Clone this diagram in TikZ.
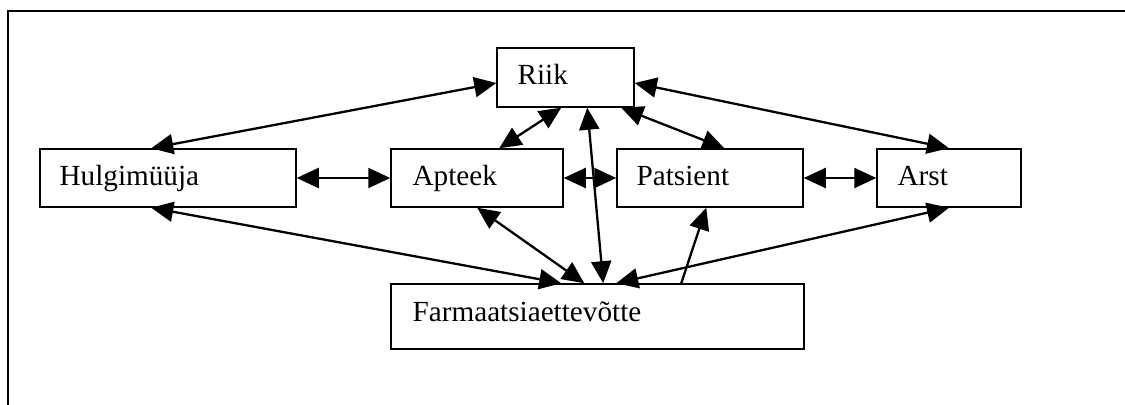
\documentclass[tikz,border=0pt]{standalone}
\usepackage{fontspec}
\setmainfont{Liberation Serif}
\usetikzlibrary{arrows.meta}
\begin{document}
\begin{tikzpicture}[x=0.5pt,y=-0.5pt,
  box/.style={draw,line width=0.75pt,rectangle,inner sep=0pt,anchor=center},
  lbl/.style={anchor=base west,inner sep=0pt,font=\fontsize{14.6}{17}\selectfont},
  arr/.style={line width=1.15pt,{Triangle[length=11pt,width=10pt]}-{Triangle[length=11pt,width=10pt]}},
  arrone/.style={line width=1.15pt,-{Triangle[length=11pt,width=10pt]}}]
\useasboundingbox (0,0) rectangle (1125,405);
% outer frame
\coordinate (ftl) at (8,11);
\coordinate (ftr) at (1125,11);
\coordinate (fbl) at (8,405);
\draw[line width=1pt] (fbl) -- (ftl) -- (ftr);
% boxes
\node[box,minimum width=68.5pt,minimum height=29.5pt] (riik) at (565.5,77.5) {};
\node[box,minimum width=128pt,minimum height=29pt] (hul) at (168,178) {};
\node[box,minimum width=86pt,minimum height=29pt] (apt) at (477,178) {};
\node[box,minimum width=93pt,minimum height=29pt] (pat) at (710,178) {};
\node[box,minimum width=72pt,minimum height=29pt] (arst) at (949,178) {};
\node[box,minimum width=206.5pt,minimum height=32.5pt] (farm) at (597.5,316.5) {};
% labels
\node[lbl] (triik) at ([shift={(21,7.5)}]riik.west) {Riik};
\node[lbl] (thul) at ([shift={(20,8)}]hul.west) {Hulgimüüja};
\node[lbl] (tapt) at ([shift={(22,8)}]apt.west) {Apteek};
\node[lbl] (tpat) at ([shift={(20,8)}]pat.west) {Patsient};
\node[lbl] (tarst) at ([shift={(21,8)}]arst.west) {Arst};
\node[lbl] (tfarm) at ([shift={(22,5.5)}]farm.west) {Farmaatsiaettevõtte};
% connectors
\draw[arr] ([shift={(0,5.5)}]riik.west) -- ([shift={(112,0)}]hul.north west);
\draw[arr] ([shift={(0,5.5)}]riik.east) -- (arst.north);
\draw[arr] ([shift={(65,0)}]riik.south west) -- ([shift={(109,0)}]apt.north west);
\draw[arr] ([shift={(125,0)}]riik.south west) -- ([shift={(108,0)}]pat.north west);
\draw[arr] ([shift={(91,0)}]riik.south west) -- ([shift={(213,0)}]farm.north west);
\draw[arr] (hul.east) -- (apt.west);
\draw[arr] (apt.east) -- (pat.west);
\draw[arr] (pat.east) -- (arst.west);
\draw[arr] ([shift={(112,0)}]hul.south west) -- ([shift={(171,0)}]farm.north west);
\draw[arr] ([shift={(87,0)}]apt.south west) -- ([shift={(194,0)}]farm.north west);
\draw[arrone] ([shift={(291,0)}]farm.north west) -- ([shift={(90,0)}]pat.south west);
\draw[arr] (arst.south) -- ([shift={(226,0)}]farm.north west);
\end{tikzpicture}
\end{document}
